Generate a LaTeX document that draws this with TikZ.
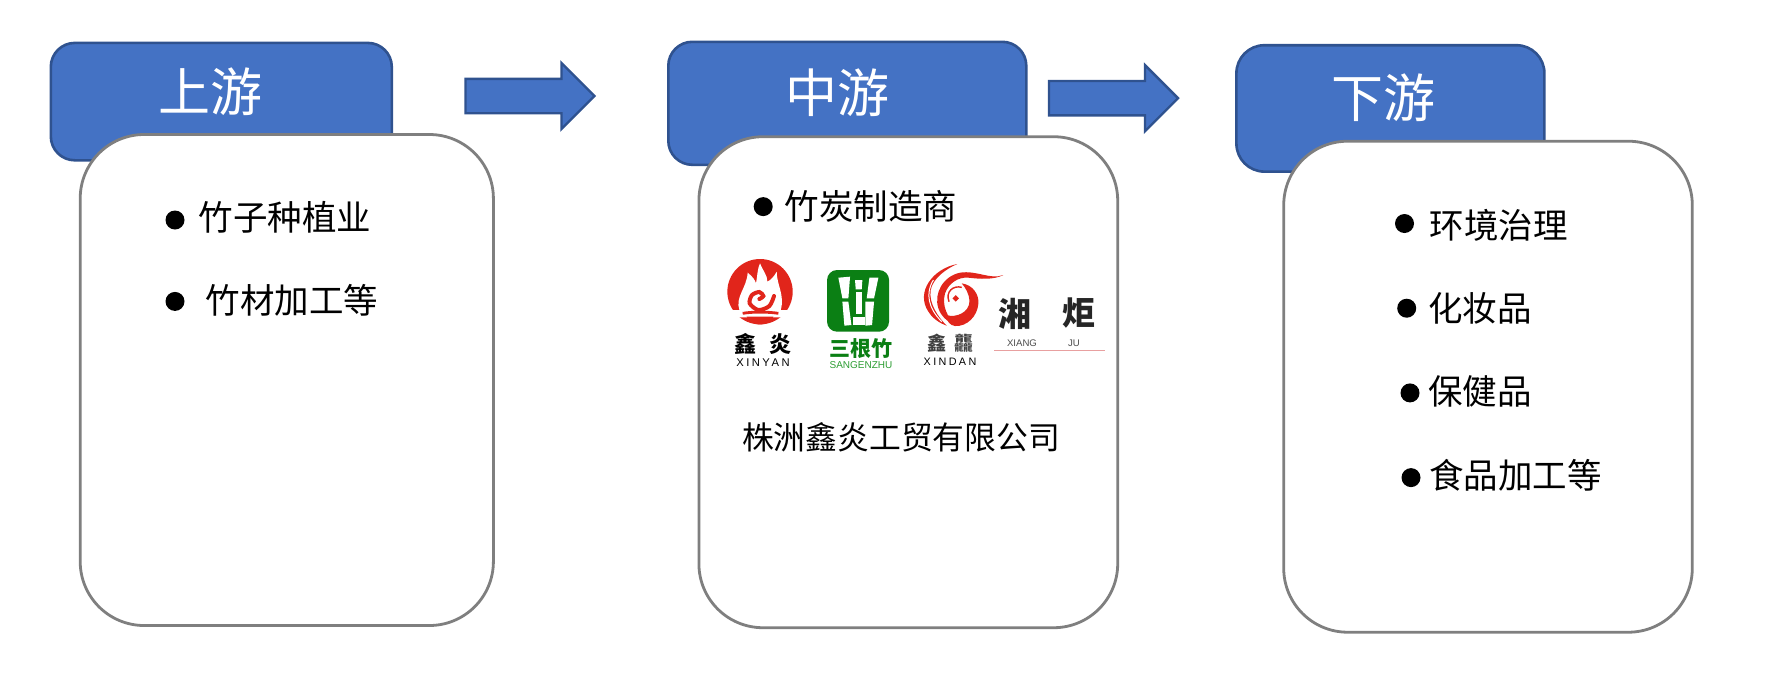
\documentclass[tikz,border=0pt]{standalone}
\usepackage{fontspec}
\setmainfont{Noto Sans CJK SC}
\setsansfont{Liberation Sans}
\newfontfamily\spacedlatin[LetterSpace=22]{Liberation Sans}
\usetikzlibrary{positioning, shapes.arrows}
\definecolor{headblue}{HTML}{4472C4}
\definecolor{headline}{HTML}{2F528F}
\definecolor{boxline}{HTML}{7F7F7F}
\definecolor{logored}{HTML}{E1251B}
\definecolor{logogreen}{HTML}{0B7F14}
\definecolor{sanggreen}{HTML}{2E9E34}
\definecolor{rulered}{HTML}{E8A0A0}
\begin{document}
\begin{tikzpicture}[x=.5pt,y=-.5pt,on grid,
    stagehead/.style={draw=headline,line width=1.3pt,fill=headblue,rounded corners=12pt,inner sep=0pt},
    stagebox/.style={draw=boxline,line width=1.4pt,fill=white,rounded corners=32pt,inner sep=0pt,minimum height=245.5pt},
    stagename/.style={text=white,inner sep=0pt,font=\fontsize{26pt}{30pt}\selectfont},
    flowarrow/.style={shape=single arrow,draw=headline,line width=1.2pt,fill=headblue,inner sep=0pt,
      inner ysep=8pt,outer sep=0pt,single arrow head extend=7.9pt,single arrow tip angle=90,
      minimum width=31.8pt,minimum height=64.5pt,anchor=tail},
    itemdot/.style={circle,fill=black,inner sep=0pt,minimum size=9.5pt},
    itemtext/.style={inner sep=0pt,font=\fontsize{17.25pt}{20pt}\selectfont},
    logotext/.style={inner sep=0pt,font=\fontsize{#1}{#1}\selectfont\bfseries},
    logolatin/.style={inner sep=0pt,font=\fontsize{#1}{#1}\sffamily\selectfont}]
    \useasboundingbox (0,0) rectangle (1770,698);

    % stages
    \node[stagehead,minimum width=170.5pt,minimum height=58.7pt] (head_1) at (221.3,101.6) {};
    \node[stagebox,minimum width=206.6pt] (box_1) at (286.8,380) {};
    \node[stagename] (name_1) at (210,91.4) {上游};

    \node[stagehead,minimum width=179pt,minimum height=61.5pt] (head_2) at (847.3,103.3) {};
    \node[stagebox,minimum width=209.4pt] (box_2) at (908.3,382.2) {};
    \node[stagename] (name_2) at (837,93) {中游};

    \node[stagehead,minimum width=154pt,minimum height=63.2pt,rounded corners=14pt] (head_3) at (1390.4,108.4) {};
    \node[stagebox,minimum width=204.3pt] (box_3) at (1488,386.7) {};
    \node[stagename] (name_3) at (1383.6,98) {下游};

    % arrows
    \node[flowarrow] (arrow_1) at (465.5,96) {};
    \node[flowarrow] (arrow_2) at (1049,98.2) {};

    % items
    \node[itemdot] (dot_1) at (175,220) {};
    \node[itemtext,right=55pt of dot_1,yshift=1.2pt] (item_1) {竹子种植业};
    \node[itemdot,below=40.7pt of dot_1] (dot_2) {};
    \node[itemtext,right=58.5pt of dot_2,yshift=.6pt] (item_2) {竹材加工等};

    \node[itemdot] (dot_3) at (763.2,206.6) {};
    \node[itemtext,right=54pt of dot_3] (item_3) {竹炭制造商};
    \node[inner sep=0pt,font=\fontsize{15.9pt}{19pt}\selectfont] (company) at (901,437) {株洲鑫炎工贸有限公司};

    \node[itemdot] (dot_4) at (1404.5,223.5) {};
    \node[itemtext,right=47pt of dot_4,yshift=-.9pt] (item_4) {环境治理};
    \node[itemdot] (dot_5) at (1406.7,308.2) {};
    \node[itemtext,right=36.7pt of dot_5] (item_5) {化妆品};
    \node[itemdot] (dot_6) at (1410,392.9) {};
    \node[itemtext,right=35pt of dot_6,yshift=1pt] (item_6) {保健品};
    \node[itemdot] (dot_7) at (1411,477.6) {};
    \node[itemtext,right=52.2pt of dot_7,yshift=1.2pt] (item_7) {食品加工等};

    % logos
    \begin{scope}[shift={(680,230)},x=.1667pt,y=-.1667pt]
      \fill[logored] (240,185) circle (98);
      \fill[white] (178,240) .. controls (165,200) and (200,175) .. (203,128)
        .. controls (218,140) and (225,150) .. (228,160) .. controls (232,140) and (232,115) .. (240,100)
        .. controls (250,125) and (262,135) .. (262,155) .. controls (272,150) and (282,140) .. (290,125)
        .. controls (290,165) and (315,195) .. (302,240) -- (335,240) -- (312,262) -- (168,262) -- (145,240) -- cycle;
      \draw[logored,line width=2pt,line cap=round] plot[smooth] coordinates
        {(238,207) (250,198) (238,186) (216,195) (209,220) (235,240) (268,228) (282,198)};
      \draw[logored,line width=1.4pt] (188,250) .. controls (215,245) and (265,245) .. (295,250);
      \fill[logored] (200,260) -- (280,260) .. controls (275,275) and (262,283) .. (240,283)
        .. controls (218,283) and (205,275) .. (200,260) -- cycle;

      \fill[logogreen,rounded corners=5pt] (441,120) rectangle (627,305);
      \fill[white] (475,143) -- (510,140) -- (505,205) -- (487,205) -- cycle;
      \fill[white] (487,215) -- (505,215) -- (514,285) -- (493,287) -- cycle;
      \fill[white] (525,150) -- (547,150) -- (545,178) -- (527,178) -- cycle;
      \fill[white] (527,186) -- (545,186) -- (545,252) -- (527,252) -- cycle;
      \fill[white] (520,260) -- (556,260) -- (556,285) -- (520,285) -- cycle;
      \fill[white] (568,143) -- (595,143) -- (582,205) -- (560,205) -- cycle;
      \fill[white] (556,215) -- (582,215) -- (576,285) -- (556,287) -- cycle;

      \fill[logored] (832,102) .. controls (760,115) and (705,185) .. (745,245)
        .. controls (755,262) and (775,278) .. (800,287) .. controls (775,262) and (745,220) .. (752,180)
        .. controls (758,145) and (800,115) .. (832,102) -- cycle;
      \fill[logored] (970,135) .. controls (930,150) and (890,120) .. (840,128)
        .. controls (790,138) and (760,190) .. (775,235) .. controls (783,258) and (800,275) .. (830,287)
        .. controls (800,262) and (785,225) .. (795,190) .. controls (805,160) and (835,140) .. (865,143)
        .. controls (900,147) and (940,150) .. (970,135) -- cycle;
      \fill[logored] (845,160) .. controls (880,165) and (897,195) .. (895,220)
        .. controls (892,260) and (860,290) .. (825,288) .. controls (810,286) and (800,275) .. (798,255)
        .. controls (830,265) and (868,245) .. (868,215) .. controls (868,190) and (855,172) .. (845,160) -- cycle;
      \fill[logored] (827,195) -- (837,205) -- (827,215) -- (817,205) -- cycle;
      \draw[logored,line width=.7pt] (807,215) .. controls (795,185) and (820,165) .. (845,172);
      \draw[white,line width=.5pt] (760,150) .. controls (735,190) and (745,235) .. (785,275);
    \end{scope}
    \node[logotext=11pt] (xinyan_cn) at (763,344) {鑫\hspace{6.5pt}炎};
    \node[inner sep=0pt,font=\fontsize{5.6pt}{6pt}\spacedlatin\selectfont] (xinyan_en) at (763,363) {XINYAN};
    \node[logotext=10.5pt,text=logogreen] (sangen_cn) at (861,349) {三根竹};
    \node[logolatin=5pt,text=sanggreen] (sangen_en) at (861,365) {SANGENZHU};
    \node[logotext=9.5pt,text=black!75] (xindan_cn) at (950,343) {鑫\hspace{4pt}龘};
    \node[inner sep=0pt,font=\fontsize{5.4pt}{6pt}\spacedlatin\selectfont] (xindan_en) at (950,362) {XINDAN};
    \node[logotext=16.5pt,text=black!85] (xiang_cn) at (1015,314) {湘};
    \node[logotext=16.5pt,text=black!85] (ju_cn) at (1079,313) {炬};
    \node[logolatin=4.8pt,text=black!70] (xiang_en) at (1022,343) {XIANG};
    \node[logolatin=4.8pt,text=black!70] (ju_en) at (1074,343) {JU};
    \coordinate (rule_l) at (994,350);
    \coordinate (rule_r) at (1105,350);
    \draw[rulered,line width=.5pt] (rule_l) -- (rule_r);
\end{tikzpicture}
\end{document}
